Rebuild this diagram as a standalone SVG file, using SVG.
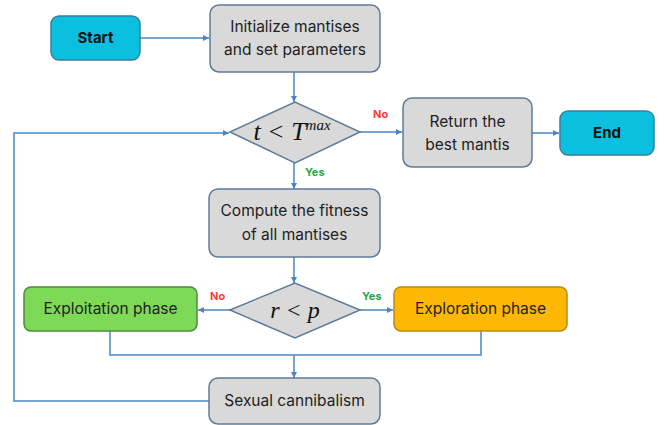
<svg xmlns="http://www.w3.org/2000/svg" width="664" height="425" viewBox="0 0 664 425">
<defs>
<marker id="ah" viewBox="0 0 10 10" refX="10" refY="5" markerWidth="6" markerHeight="6" orient="auto" markerUnits="userSpaceOnUse">
<path d="M0,0 L10,5 L0,10 z" fill="#4a86c5"/>
</marker>
<style>
.box{fill:#d9d9d9;stroke:#5d7b99;stroke-width:1.5}
.t{font-family:Inter,"Open Sans","Liberation Sans",sans-serif;font-size:15.5px;fill:#222;text-anchor:middle}
.b{font-family:Inter,"Liberation Sans",sans-serif;font-size:15px;font-weight:bold;fill:#111;text-anchor:middle}
.m{font-family:"Liberation Serif","DejaVu Serif",serif;font-style:italic;fill:#111;text-anchor:middle}
.no{font-family:Inter,"Liberation Sans",sans-serif;font-size:11px;font-weight:bold;fill:#ff3b3b}
.yes{font-family:Inter,"Liberation Sans",sans-serif;font-size:11px;font-weight:bold;fill:#1ea84a}
.c{fill:none;stroke:#4a86c5;stroke-width:1.5}
</style>
</defs>
<rect width="664" height="425" fill="#ffffff"/>
<g id="connectors">
<path class="c" d="M140,38 H209" marker-end="url(#ah)"/>
<path class="c" d="M294,72 V102" marker-end="url(#ah)"/>
<path class="c" d="M360,132 H402" marker-end="url(#ah)"/>
<path class="c" d="M532,133 H559" marker-end="url(#ah)"/>
<path class="c" d="M294,163 V189" marker-end="url(#ah)"/>
<path class="c" d="M294,257 V283" marker-end="url(#ah)"/>
<path class="c" d="M230,310 H198" marker-end="url(#ah)"/>
<path class="c" d="M360,310 H393" marker-end="url(#ah)"/>
<path class="c" d="M110,331 V355 H481 V331"/>
<path class="c" d="M294,355 V378" marker-end="url(#ah)"/>
<path class="c" d="M209,401 H14 V133 H229" marker-end="url(#ah)"/>
<text class="no" x="373" y="118">No</text>
<text class="yes" x="305" y="176">Yes</text>
<text class="no" x="210" y="300">No</text>
<text class="yes" x="362" y="300">Yes</text>
</g>
<g id="start">
<rect x="51" y="16" width="89" height="44" rx="8" fill="#0bbfdf" stroke="#3a7fa0" stroke-width="1.5"/>
<text class="b" x="95.5" y="43">Start</text>
</g>
<g id="init">
<rect class="box" x="210" y="5" width="170" height="67" rx="9"/>
<text class="t" x="295" y="32">Initialize mantises</text>
<text class="t" x="295" y="55">and set parameters</text>
</g>
<g id="cond1">
<polygon points="230,132 295,102 360,132 295,163" fill="#d9d9d9" stroke="#5d7b99" stroke-width="1.5"/>
<text class="m" x="292" y="140" font-size="26">t &lt; T<tspan font-size="15" dy="-10">max</tspan></text>
</g>
<g id="return">
<rect class="box" x="403" y="98" width="129" height="69" rx="9"/>
<text class="t" x="467.5" y="127">Return the</text>
<text class="t" x="467.5" y="150">best mantis</text>
</g>
<g id="end">
<rect x="560" y="111" width="94" height="44" rx="8" fill="#0bbfdf" stroke="#3a7fa0" stroke-width="1.5"/>
<text class="b" x="607" y="138">End</text>
</g>
<g id="compute">
<rect class="box" x="209" y="189" width="171" height="68" rx="9"/>
<text class="t" x="294.5" y="216">Compute the fitness</text>
<text class="t" x="294.5" y="240">of all mantises</text>
</g>
<g id="cond2">
<polygon points="230,310 295,283 360,310 295,338" fill="#d9d9d9" stroke="#5d7b99" stroke-width="1.5"/>
<text class="m" x="295" y="318" font-size="24">r &lt; p</text>
</g>
<g id="exploitation">
<rect x="24" y="287" width="173" height="44" rx="7" fill="#7ed957" stroke="#4f8a3a" stroke-width="1.5"/>
<text class="t" x="110.5" y="314">Exploitation phase</text>
</g>
<g id="exploration">
<rect x="394" y="287" width="173" height="44" rx="7" fill="#ffb703" stroke="#b98a10" stroke-width="1.5"/>
<text class="t" x="480.5" y="314">Exploration phase</text>
</g>
<g id="cannibalism">
<rect class="box" x="209" y="378" width="171" height="46" rx="9"/>
<text class="t" x="294.5" y="406">Sexual cannibalism</text>
</g>
</svg>
